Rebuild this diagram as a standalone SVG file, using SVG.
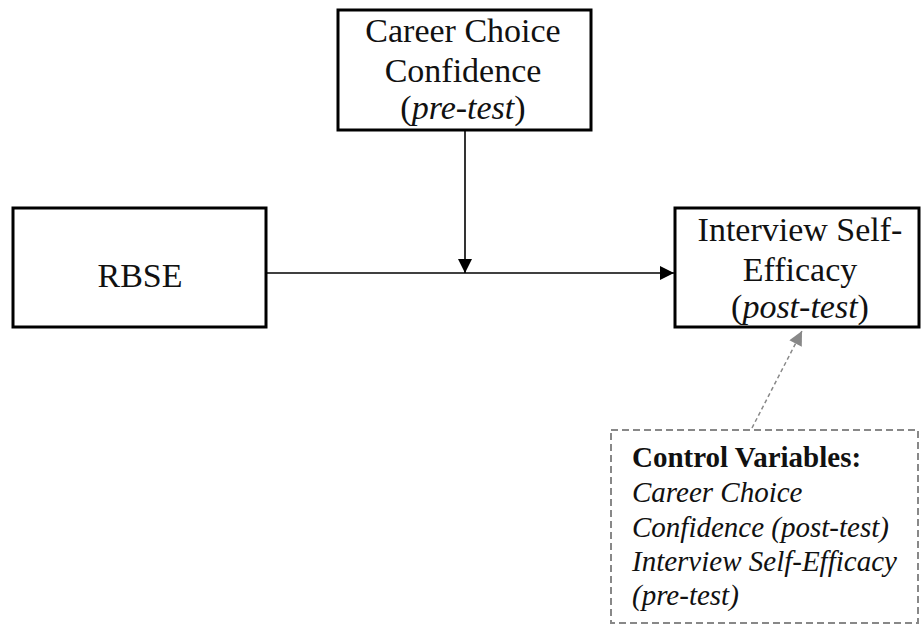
<svg xmlns="http://www.w3.org/2000/svg" width="923" height="625" viewBox="0 0 923 625">
<defs>
<style>
.box{fill:#fff;stroke:#000;stroke-width:3}
.t{font-family:"Liberation Serif","Times New Roman",serif;font-size:34px;fill:#111;text-anchor:middle}
.c{font-family:"Liberation Serif","Times New Roman",serif;font-size:29px;fill:#111}
.edge{stroke:#000;stroke-width:1.6;fill:none}
</style>
<marker id="ah" viewBox="0 0 10 10" refX="10" refY="5" markerWidth="15" markerHeight="14" markerUnits="userSpaceOnUse" orient="auto"><path d="M0,0 L10,5 L0,10 z" fill="#000"/></marker>
<marker id="ahg" viewBox="0 0 10 10" refX="10" refY="5" markerWidth="15" markerHeight="14" markerUnits="userSpaceOnUse" orient="auto"><path d="M0,0 L10,5 L0,10 z" fill="#888"/></marker>
</defs>
<rect width="923" height="625" fill="#fff"/>
<g id="connectors">
<line class="edge" x1="266" y1="273" x2="674" y2="273" marker-end="url(#ah)"/>
<line class="edge" x1="465" y1="130" x2="465" y2="273" marker-end="url(#ah)"/>
<line x1="752" y1="428" x2="802" y2="331" stroke="#888" stroke-width="1.5" stroke-dasharray="4,3" marker-end="url(#ahg)"/>
</g>
<g id="ccc-pre">
<rect class="box" x="338" y="10" width="253" height="120"/>
<text class="t" x="463" y="42">Career Choice</text>
<text class="t" x="463" y="82">Confidence</text>
<text class="t" x="463" y="119">(<tspan font-style="italic">pre-test</tspan>)</text>
</g>
<g id="rbse">
<rect class="box" x="13" y="208" width="253" height="119"/>
<text class="t" x="140" y="287">RBSE</text>
</g>
<g id="ise-post">
<rect class="box" x="675" y="208" width="244" height="119"/>
<text class="t" x="800" y="241">Interview Self-</text>
<text class="t" x="800" y="281">Efficacy</text>
<text class="t" x="800" y="318">(<tspan font-style="italic">post-test</tspan>)</text>
</g>
<g id="controls">
<rect x="611" y="430" width="307" height="193" fill="#fff" stroke="#888" stroke-width="2" stroke-dasharray="7,4"/>
<text class="c" x="632" y="467" font-weight="bold">Control Variables:</text>
<text class="c" x="632" y="502" font-style="italic">Career Choice</text>
<text class="c" x="632" y="537" font-style="italic">Confidence (post-test)</text>
<text class="c" x="632" y="571" font-style="italic">Interview Self-Efficacy</text>
<text class="c" x="632" y="605" font-style="italic">(pre-test)</text>
</g>
</svg>
